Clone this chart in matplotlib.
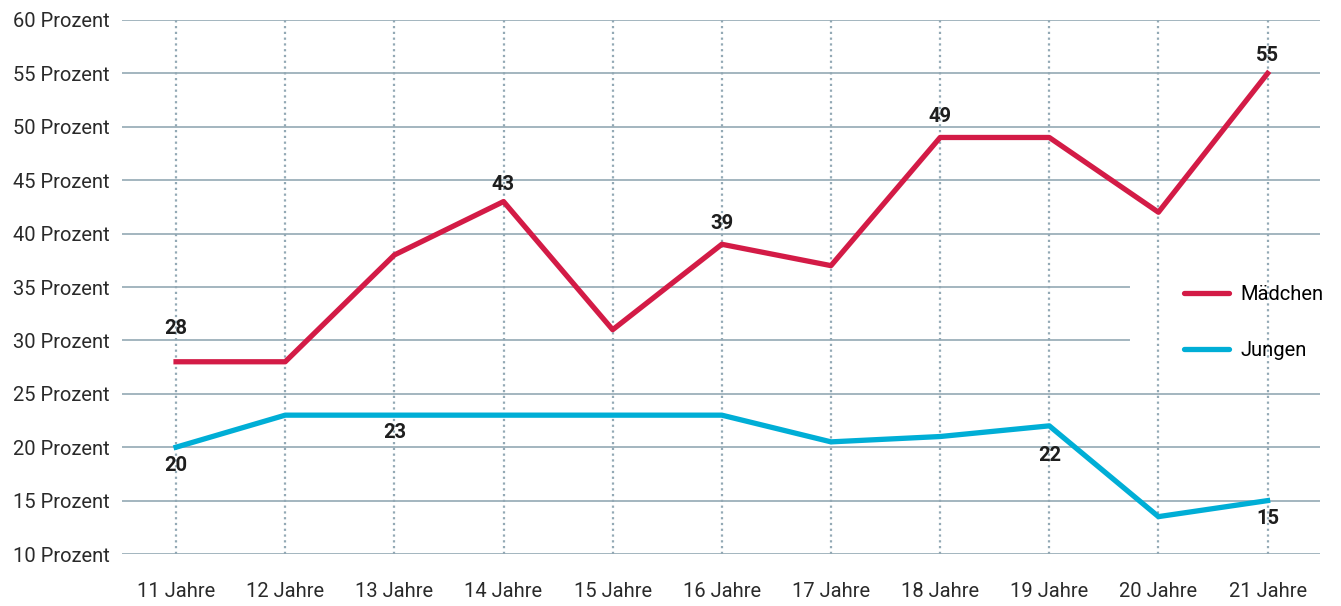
import matplotlib
matplotlib.use("Agg")
import matplotlib.pyplot as plt

plt.rcParams['font.family'] = ['Roboto', 'DejaVu Sans']

alter = [11, 12, 13, 14, 15, 16, 17, 18, 19, 20, 21]
alter_labels = [f"{a} Jahre" for a in alter]
maedchen = [28, 28, 38, 43, 31, 39, 37, 49, 49, 42, 55]
jungen = [20, 23, 23, 23, 23, 23, 20.5, 21, 22, 13.5, 15]
y_ticks = [10, 15, 20, 25, 30, 35, 40, 45, 50, 55, 60]

# beschriftete Punkte: (Index, Versatz in Pixel)
labels_m = [(0, 33), (3, 17), (5, 21), (7, 21), (10, 18)]
labels_j = [(0, -18), (2, -17), (8, -30), (10, -18)]

rot = "#d31b46"
blau = "#00aed6"
grid_col = "#a3b5bf"

fig = plt.figure(figsize=(13.41, 6.06), dpi=100)
ax = fig.add_axes([0.091, 0.0858, 0.893, 0.8812])

ax.set_xlim(10.505, 21.476)
ax.set_ylim(10, 60)

# horizontale Linien, 30 und 35 kürzer wegen Legende
for y in y_ticks:
    xmax = 0.841 if y in (30, 35) else 1.0
    ax.axhline(y, xmin=0, xmax=xmax, color=grid_col, lw=1.4, zorder=1)
for x in alter:
    ax.axvline(x, color="#93a9b5", lw=1.6, ls=(0, (1, 1.6)), zorder=1)

ax.plot(alter, maedchen, color=rot, lw=3.8, label="Mädchen", zorder=3)
ax.plot(alter, jungen, color=blau, lw=3.8, label="Jungen", zorder=3)

for i, off in labels_m:
    ax.annotate(f"{maedchen[i]:g}", (alter[i], maedchen[i]), xytext=(0, off),
                textcoords="offset pixels", ha="center", va="center",
                fontsize=14.5, fontweight="bold", color="#1e1e1e", zorder=4)
for i, off in labels_j:
    ax.annotate(f"{jungen[i]:g}", (alter[i], jungen[i]), xytext=(0, off),
                textcoords="offset pixels", ha="center", va="center",
                fontsize=14.5, fontweight="bold", color="#1e1e1e", zorder=4)

ax.set_xticks(alter)
ax.set_xticklabels(alter_labels)
ax.set_yticks(y_ticks)
ax.set_yticklabels([f"{y} Prozent" for y in y_ticks])
ax.tick_params(axis="both", length=0, labelsize=14.5, colors="#2a2a2a")
ax.tick_params(axis="x", pad=20)
ax.tick_params(axis="y", pad=9)
for s in ax.spines.values():
    s.set_visible(False)

leg = ax.legend(loc="upper left", bbox_to_anchor=(0.872, 0.537), frameon=False,
                fontsize=14.5, handlelength=2.2, labelspacing=1.8, handletextpad=0.6)
for line in leg.get_lines():
    line.set_linewidth(3.8)
    line.set_solid_capstyle("round")

fig.savefig("out.png", dpi=100)
